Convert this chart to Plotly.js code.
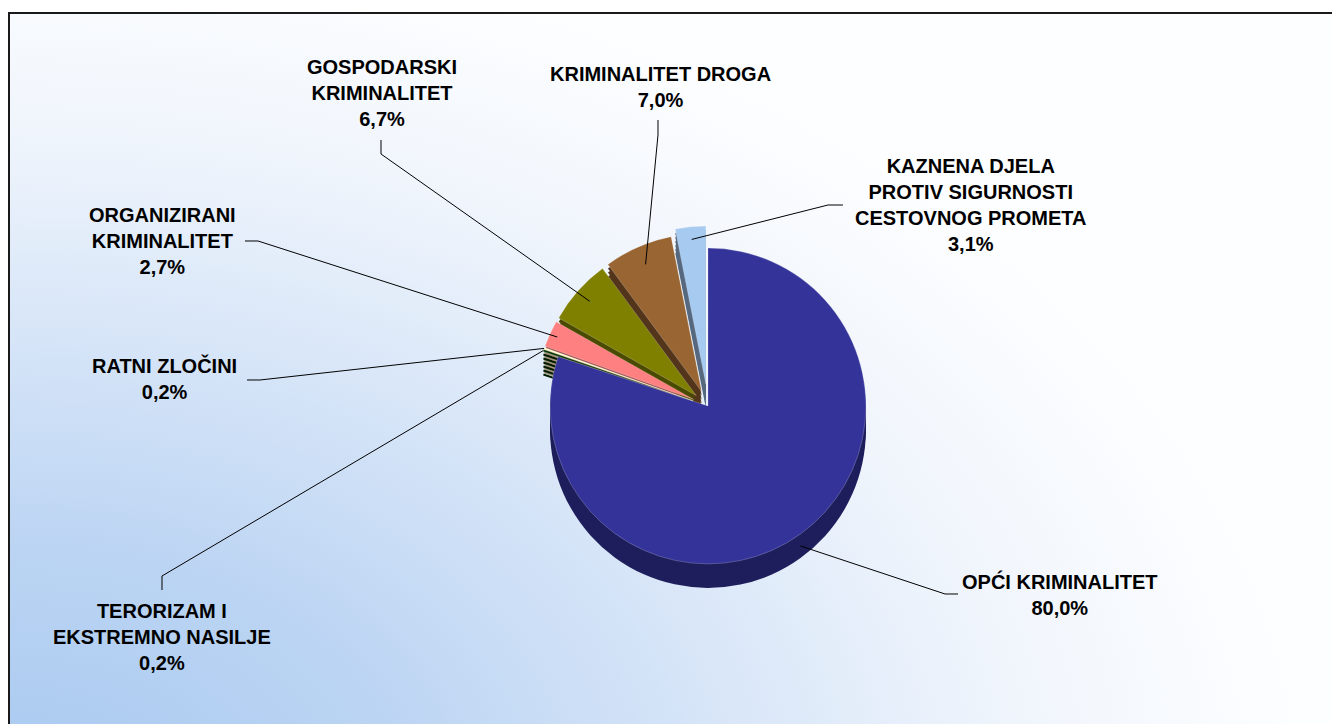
<!DOCTYPE html>
<html>
<head>
<meta charset="utf-8">
<script src="https://cdn.plot.ly/plotly-3.0.1.min.js"></script>
<style>
  html, body { margin:0; padding:0; width:1332px; height:724px; overflow:hidden; background:#ffffff; }
  #frame { position:absolute; left:8px; top:12px; width:1400px; height:800px;
    border-left:2px solid #1a1a1a; border-top:2px solid #1a1a1a;
    background: radial-gradient(ellipse 1300px 880px at 0% 100%, #A6C8F0 0%, #BBD4F3 30%, #D8E6F8 56%, #F0F5FC 78%, #FDFEFF 100%); }
  #chart { position:absolute; left:0; top:0; width:1332px; height:724px; }
</style>
</head>
<body>
<div id="frame"></div>
<div id="chart"></div>
<script>
// ---- data ----
const categories = [
  "OPĆI KRIMINALITET",
  "TERORIZAM I EKSTREMNO NASILJE",
  "RATNI ZLOČINI",
  "ORGANIZIRANI KRIMINALITET",
  "GOSPODARSKI KRIMINALITET",
  "KRIMINALITET DROGA",
  "KAZNENA DJELA PROTIV SIGURNOSTI CESTOVNOG PROMETA"
];
const labelLines = [
  ["OPĆI KRIMINALITET"],
  ["TERORIZAM I", "EKSTREMNO NASILJE"],
  ["RATNI ZLOČINI"],
  ["ORGANIZIRANI", "KRIMINALITET"],
  ["GOSPODARSKI", "KRIMINALITET"],
  ["KRIMINALITET DROGA"],
  ["KAZNENA DJELA", "PROTIV SIGURNOSTI", "CESTOVNOG PROMETA"]
];
const shares = [80.0, 0.2, 0.2, 2.7, 6.7, 7.0, 3.1];
const shareLabels = ["80,0%", "0,2%", "0,2%", "2,7%", "6,7%", "7,0%", "3,1%"];

// ---- style ----
const topColors  = ["#333399", "#003300", "#FFFFCC", "#FF8080", "#808000", "#996633", "#A6CAF0"];
const sideColors = ["#1E1E5C", "#001C00", "#9A9A7A", "#994D4D", "#4A4A00", "#52351A", "#56697F"];
const pulls = [0, 0.1, 0.1, 0.1, 0.1, 0.1, 0.14];
const tipFactor = [1.0, 1.0, 1.0, 0.95, 0.9, 0.88, 0.92];
// label block centre (px) and leader elbow start points (px)
const labelPos = [[1060, 594], [162, 637], [164, 378], [162, 241], [382, 93], [660, 87], [971, 205]];
const leaderStart = [
  [[958, 594], [945, 594]],
  [[162, 590], [162, 576]],
  [[247, 380], [260, 380]],
  [[245, 241], [258, 241]],
  [[381, 140], [381, 154]],
  [[658, 120], [658, 135]],
  [[843, 205], [828, 205]]
];

const W = 1332, H = 724;
const CX = 708, CY = 406, S = 360, DEPTH = 24;
const maxPull = Math.max(...pulls);
const R = S / (2 + 2 * maxPull);

function domainFor(dy) {
  const cy = CY + dy;
  return {
    x: [(CX - S / 2) / W, (CX + S / 2) / W],
    y: [1 - (cy + S / 2) / H, 1 - (cy - S / 2) / H]
  };
}

const traces = [];
const layerOffsets = [24, 20, 16, 12, 8, 4];
layerOffsets.forEach(off => {
  traces.push({
    type: "pie", values: shares, labels: categories, sort: false,
    direction: "clockwise", rotation: 0, pull: pulls,
    marker: { colors: sideColors, line: { width: 0 } },
    textinfo: "none", hoverinfo: "skip", showlegend: false,
    domain: domainFor(off)
  });
});
traces.push({
  type: "pie", values: shares, labels: categories, sort: false,
  direction: "clockwise", rotation: 0, pull: pulls,
  marker: { colors: topColors, line: { width: 0.6, color: "rgba(255,255,255,0.35)" } },
  textinfo: "none", hoverinfo: "label+percent", showlegend: false,
  domain: domainFor(0)
});

// leader lines computed from slice mid-angles
const total = shares.reduce((a, b) => a + b, 0);
let cum = 0;
const shapes = [];
const annotations = [];
shares.forEach((v, i) => {
  const mid = (cum + v / 2) / total * 2 * Math.PI; // clockwise from 12 o'clock
  cum += v;
  const rho = pulls[i] * R + tipFactor[i] * R;
  let tx = CX + rho * Math.sin(mid);
  let ty = CY - rho * Math.cos(mid);
  if (i === 0) ty += DEPTH * 0.5;
  const pts = [leaderStart[i][0], leaderStart[i][1], [tx, ty]];
  const path = pts.map((p, k) => (k === 0 ? "M" : "L") + (p[0] / W).toFixed(5) + "," + (1 - p[1] / H).toFixed(5)).join(" ");
  shapes.push({ type: "path", xref: "paper", yref: "paper", path: path, line: { color: "#000000", width: 1 } });
  annotations.push({
    xref: "paper", yref: "paper", x: labelPos[i][0] / W, y: 1 - labelPos[i][1] / H,
    xanchor: "center", yanchor: "middle", showarrow: false, align: "center",
    text: "<b>" + labelLines[i].concat([shareLabels[i]]).join("<br>") + "</b>",
    font: { family: "Liberation Sans, Arial, sans-serif", size: 20, color: "#000000" }
  });
});

const layout = {
  width: W, height: H,
  margin: { l: 0, r: 0, t: 0, b: 0 },
  paper_bgcolor: "rgba(0,0,0,0)", plot_bgcolor: "rgba(0,0,0,0)",
  showlegend: false,
  shapes: shapes,
  annotations: annotations
};
Plotly.newPlot("chart", traces, layout, { displayModeBar: false, staticPlot: false });
</script>
</body>
</html>
